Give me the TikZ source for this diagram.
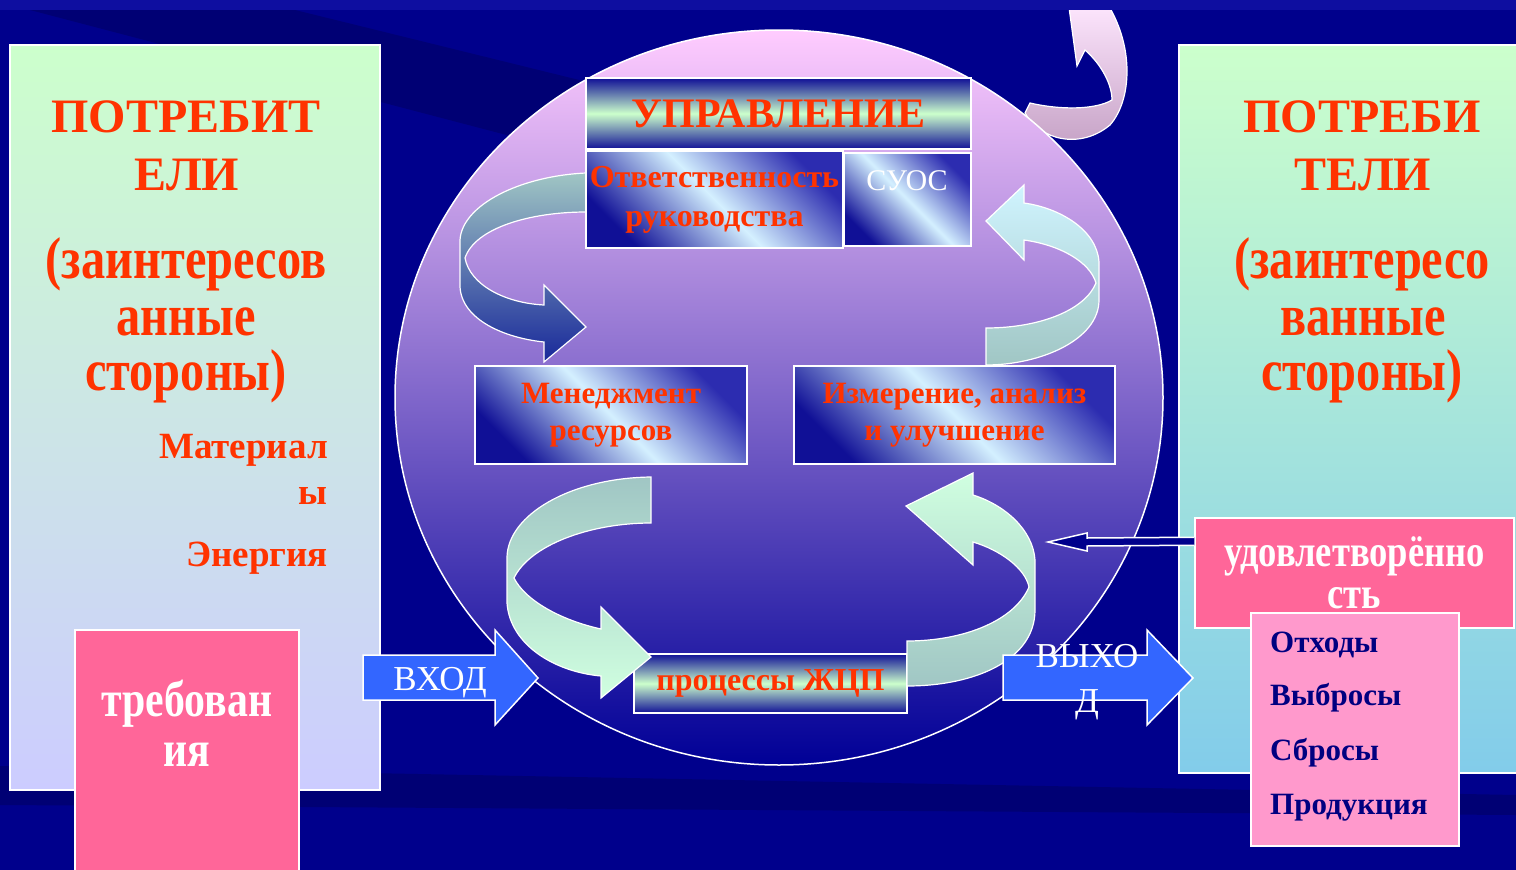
\documentclass[tikz,border=0pt]{standalone}
\usepackage{fontspec}
\setmainfont{Liberation Serif}
\newfontfamily\tallserif{Liberation Serif}[FakeStretch=0.82]
\usetikzlibrary{calc}
\tikzset{>=latex}

\definecolor{slideBg}{RGB}{0,0,140}
\definecolor{slideDark}{RGB}{0,0,116}
\definecolor{slideTop}{RGB}{14,14,160}
\definecolor{redText}{RGB}{255,51,0}
\definecolor{navyText}{RGB}{0,0,128}
\definecolor{mintTop}{RGB}{204,255,204}
\definecolor{lavBot}{RGB}{204,204,255}
\definecolor{skyBot}{RGB}{130,204,234}
\definecolor{rosePink}{RGB}{255,102,153}
\definecolor{lightPink}{RGB}{255,153,204}
\definecolor{globeTop}{RGB}{255,204,255}
\definecolor{globeBot}{RGB}{0,0,150}
\definecolor{boxDark}{RGB}{16,16,150}
\definecolor{boxBlue}{RGB}{44,44,176}
\definecolor{boxLight}{RGB}{212,240,255}
\definecolor{bandGreen}{RGB}{204,255,204}
\definecolor{arrowBlue}{RGB}{51,102,255}
\definecolor{tealGray}{RGB}{160,198,196}
\definecolor{ribbonBlue}{RGB}{24,40,154}
\definecolor{paleCyan}{RGB}{208,244,255}
\definecolor{paleGreen}{RGB}{208,255,224}
\definecolor{pinkTop}{RGB}{255,232,255}
\definecolor{pinkBot}{RGB}{196,160,196}

\tikzset{
  slideframe/.style={draw=white, line width=1.5pt, inner sep=0pt},
  glassbox/.style={slideframe, left color=boxDark, right color=boxBlue, middle color=boxLight, shading angle=135},
  bandbox/.style={slideframe, top color=boxDark, bottom color=boxDark, middle color=bandGreen},
  boxtext/.style={text=redText, font=\fontsize{31}{37}\selectfont\bfseries, align=center},
  bigtext/.style={text=redText, font=\fontsize{48}{58}\selectfont\bfseries, anchor=base, inner sep=0pt},
  talltext/.style={text=redText, font=\tallserif\fontsize{59}{57}\selectfont\bfseries, anchor=base, inner sep=0pt},
  sidetext/.style={text=redText, font=\fontsize{37}{44}\selectfont\bfseries, anchor=base east, inner sep=0pt},
  whitetext/.style={text=white, font=\fontsize{35}{45}\selectfont, anchor=base, inner sep=0pt},
  listtext/.style={text=navyText, font=\fontsize{31}{37}\selectfont\bfseries, anchor=base west, inner sep=0pt},
  blockarrow/.style={draw=white, line width=1.5pt, fill=arrowBlue},
  ribbon/.style={draw=white, line width=1.2pt},
}

\begin{document}
\begin{tikzpicture}[x=1pt,y=-1pt]
  % slide
  \useasboundingbox (0,0) rectangle (1516,870);
  \clip (0,0) rectangle (1516,870);
  \fill[slideBg] (0,0) rectangle (1516,870);
  % darker streaks of the background
  \fill[slideDark] (30,10) -- (295,10) -- (640,95) -- (640,170) -- cycle;
  \fill[slideDark] (0,766) -- (1516,795) -- (1516,815) -- (0,805) -- cycle;

  % consumers, left
  \node[slideframe, top color=mintTop, bottom color=lavBot, minimum width=370, minimum height=745] (consL) at (195,417.5) {};
  \node[bigtext] (consL1) at (186,132) {ПОТРЕБИТ};
  \node[bigtext] (consL2) at (187,190) {ЕЛИ};
  \node[talltext] (consL3) at (186,278) {(заинтересов};
  \node[talltext] (consL4) at (186,335) {анные};
  \node[talltext] (consL5) at (186,390) {стороны)};
  \node[sidetext] (matL1) at (328,458) {Материал};
  \node[sidetext] (matL2) at (328,504) {ы};
  \node[sidetext] (energyL) at (328,566) {Энергия};
  \node[slideframe, fill=rosePink, minimum width=224, minimum height=270] (reqBox) at (187,765) {};
  \node[talltext, text=white, font=\tallserif\fontsize{51}{50}\selectfont\bfseries] (req1) at (187,716) {требован};
  \node[talltext, text=white, font=\tallserif\fontsize{51}{50}\selectfont\bfseries] (req2) at (187,766) {ия};

  % consumers, right
  \node[slideframe, top color=mintTop, bottom color=skyBot, minimum width=351, minimum height=728] (consR) at (1354.5,409) {};
  \node[bigtext] (consR1) at (1362,132) {ПОТРЕБИ};
  \node[bigtext] (consR2) at (1363,190) {ТЕЛИ};
  \node[talltext] (consR3) at (1362,278) {(заинтересо};
  \node[talltext] (consR4) at (1363,335) {ванные};
  \node[talltext] (consR5) at (1362,390) {стороны)};
  \node[slideframe, fill=rosePink, minimum width=319, minimum height=110, text=white, align=center,
        font=\tallserif\fontsize{44.6}{42}\selectfont\bfseries] (satBox) at (1354.5,573) {удовлетворённо\\сть};
  \node[slideframe, fill=lightPink, minimum width=208, minimum height=233] (outList) at (1355,729.5) {};
  \node[listtext] (waste) at (1270,652) {Отходы};
  \node[listtext] (emission) at (1270,705) {Выбросы};
  \node[listtext] (discharge) at (1270,760) {Сбросы};
  \node[listtext] (product) at (1270,814) {Продукция};

  % pink arrow behind the globe
  \path[ribbon, top color=pinkTop, bottom color=pinkBot]
    (1068,0) -- (1077,66) -- (1085,50)
    .. controls (1102,65) and (1112,85) .. (1112,100)
    .. controls (1095,110) and (1060,110) .. (1030,103)
    -- (1025,113)
    .. controls (1040,140) and (1080,150) .. (1110,125)
    .. controls (1132,100) and (1135,45) .. (1105,0) -- cycle;
  \fill[slideTop] (0,0) rectangle (1516,10);

  % globe
  \path[draw=white, line width=1.5pt, top color=globeTop, bottom color=globeBot]
    (779,397.5) ellipse [x radius=384pt, y radius=367.5pt];

  % upper loop
  \path[ribbon, top color=tealGray, bottom color=ribbonBlue]
    (586,173) .. controls (520,176) and (462,205) .. (460,240) -- (460,287)
    .. controls (462,320) and (505,338) .. (544,342)
    -- (544,362) -- (586,327) -- (544,285) -- (544,305)
    .. controls (505,303) and (470,285) .. (465,258)
    .. controls (475,228) and (530,212) .. (586,212) -- cycle;
  \path[ribbon, top color=paleCyan, bottom color=tealGray]
    (986,365) .. controls (1040,365) and (1099,340) .. (1099,300) -- (1099,262)
    .. controls (1097,230) and (1060,208) .. (1024,203)
    -- (1024,185) -- (986,221) -- (1024,260) -- (1024,240)
    .. controls (1060,245) and (1090,262) .. (1096,283)
    .. controls (1085,310) and (1040,328) .. (986,328) -- cycle;

  % boxes
  \node[bandbox, minimum width=385, minimum height=71, boxtext, font=\fontsize{42}{48}\selectfont\bfseries] (mgmt) at (778.5,113.5) {УПРАВЛЕНИЕ};
  \node[glassbox, minimum width=257, minimum height=97, boxtext, font=\fontsize{32}{39}\selectfont\bfseries] (resp) at (714.5,199.5) {Ответственность\\руководства};
  \node[glassbox, minimum width=127, minimum height=93] (suos) at (907.5,199.5) {};
  \node[whitetext, font=\fontsize{30}{36}\selectfont] (suosText) at (907,190) {СУОС};
  \node[glassbox, minimum width=272, minimum height=98, boxtext] (resMgmt) at (611,415) {Менеджмент\\ресурсов};
  \node[glassbox, minimum width=321, minimum height=98, boxtext] (measure) at (954.5,415) {Измерение, анализ\\и улучшение};
  \node[bandbox, minimum width=273, minimum height=59, boxtext, font=\fontsize{32}{38}\selectfont\bfseries] (proc) at (770.5,683.5) {процессы ЖЦП};

  % lower loop
  \path[ribbon, top color=tealGray, bottom color=paleGreen]
    (651,477) .. controls (570,478) and (508,515) .. (507,557) -- (507,603)
    .. controls (510,645) and (555,672) .. (601,676)
    -- (601,698) -- (651,657) -- (601,607) -- (601,629)
    .. controls (560,620) and (525,600) .. (514,578)
    .. controls (530,545) and (590,523) .. (651,523) -- cycle;
  \path[ribbon, top color=paleGreen, bottom color=tealGray]
    (907,686) .. controls (975,686) and (1035,660) .. (1035,610) -- (1035,560)
    .. controls (1033,530) and (1005,505) .. (973,495)
    -- (973,473) -- (906,506) -- (973,565) -- (973,542)
    .. controls (1000,550) and (1025,568) .. (1029,587)
    .. controls (1015,620) and (965,641) .. (907,641) -- cycle;

  % input / output
  \draw[blockarrow] (363,655) -- (495,655) -- (495,630) -- (538,678) -- (495,725) -- (495,700) -- (363,700) -- cycle;
  \node[whitetext] (inText) at (440,690) {ВХОД};
  \draw[blockarrow] (1003,655) -- (1147,655) -- (1147,630) -- (1193,678) -- (1147,725) -- (1147,700) -- (1003,700) -- cycle;
  \node[whitetext] (outText1) at (1087,667) {ВЫХО};
  \node[whitetext] (outText2) at (1087,712) {Д};

  % feedback of satisfaction
  \coordinate (satFoot) at ($(satBox.north west)+(0,24)$);
  \coordinate (satTip) at (1048,542);
  \draw[white, line width=1.5pt, fill=slideBg]
    ($(satFoot)+(0,-4)$) -- ($(satTip)+(39,-4)$) -- ($(satTip)+(39,-9)$) -- (satTip)
    -- ($(satTip)+(39,9)$) -- ($(satTip)+(39,4)$) -- ($(satFoot)+(0,4)$);
\end{tikzpicture}
\end{document}
